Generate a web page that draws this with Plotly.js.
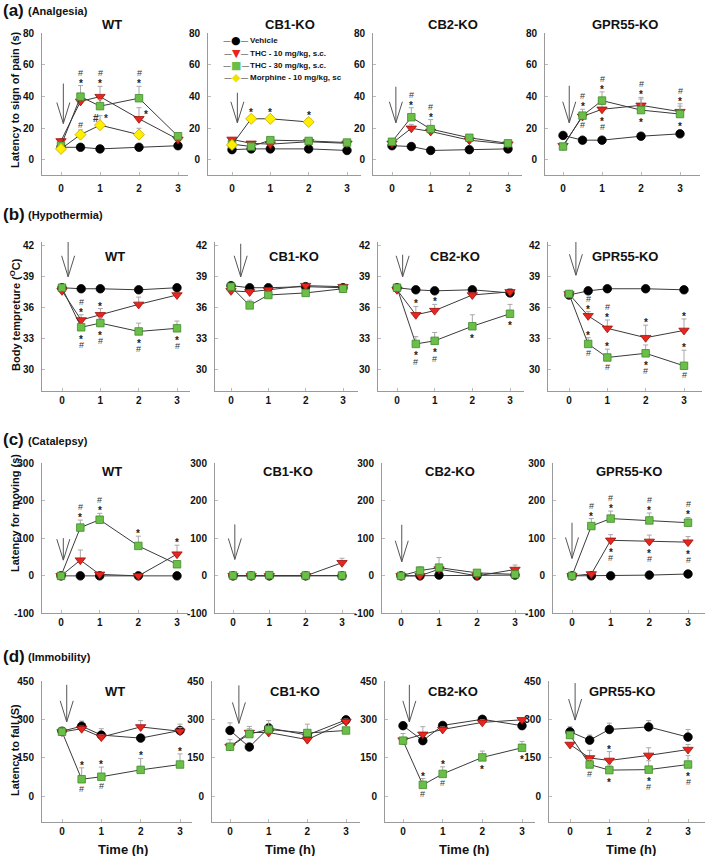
<!DOCTYPE html>
<html><head><meta charset="utf-8">
<script src="https://cdn.plot.ly/plotly-3.0.1.min.js"></script>
<style>html,body{margin:0;padding:0;background:#fff;}#chart{width:709px;height:856px;}</style>
</head><body><div id="chart"></div>
<script>
// ---------------- DATA ----------------
const timeH = [0, 0.5, 1, 2, 3];
const xTicks = [0, 1, 2, 3];
const genotypes = ["WT", "CB1-KO", "CB2-KO", "GPR55-KO"];
const seriesNames = ["Vehicle", "THC - 10 mg/kg, s.c.", "THC - 30 mg/kg, s.c.", "Morphine - 10 mg/kg, sc"];
const panelLetters = ["(a)", "(b)", "(c)", "(d)"];
const testNames = ["(Analgesia)", "(Hypothermia)", "(Catalepsy)", "(Immobility)"];
const yTitles = ["Latency to sign of pain (s)", "Body tempreture (<sup>O</sup>C)", "Latency for moving (s)", "Latency to fall (S)"];
const xTitle = "Time (h)";
const yTicks = [[0, 20, 40, 60, 80], [30, 33, 36, 39, 42], [-100, 0, 100, 200, 300], [0, 150, 300, 450]];

// each array: [WT, CB1-KO, CB2-KO, GPR55-KO], values at timeH; errors are SEM (upper bar only)
// (a) Analgesia
const analgesiaVehicle    = [[8, 8, 7, 8, 9], [6.5, 7, 7, 7, 6], [9, 8.5, 6, 6.5, 7], [15.5, 12.5, 12.5, 15, 16.5]];
const analgesiaVehicleErr = [[1, 1, 1, 1, 1], [1, 1, 1, 1, 1], [1, 1, 1, 1, 1], [1, 1, 1, 1, 1]];
const analgesiaTHC10      = [[12, 37, 40, 26, 13], [13, 10.5, 10, 11.5, 10.5], [10.5, 20, 18, 12.5, 10], [9, 27.5, 32, 34.5, 30.5]];
const analgesiaTHC10Err   = [[1.5, 2, 6.5, 7, 2], [1, 1, 1, 1, 1], [1, 2.5, 2, 1.5, 1], [1, 2, 3, 5, 5]];
const analgesiaTHC30      = [[9, 40, 34, 39, 15], [10, 8.5, 12.5, 12, 11], [11.5, 27, 19.5, 14, 10.5], [8.5, 28, 37.5, 31.5, 29]];
const analgesiaTHC30Err   = [[1.5, 7, 4, 7.5, 2], [1, 1, 1, 1, 1], [1, 6, 6, 1.5, 1], [1, 4, 5.5, 7, 5]];
const analgesiaMorphine    = [[7, 16, 22, 16], [9.5, 26, 26, 24]];
const analgesiaMorphineErr = [[1, 3, 6, 4], [1, 1.5, 1.5, 2]];
// significance marks: [genotype, series, time index, placement, marks top-to-bottom]
const analgesiaSig = [
  [0, 2, 1, "above", "#*"], [0, 1, 2, "above", "#*"], [0, 2, 3, "above", "#*"], [0, 1, 3, "right", "*"],
  [0, 3, 1, "above", "#"], [0, 3, 2, "flank", "#  *"],
  [1, 3, 1, "above", "*"], [1, 3, 2, "above", "*"], [1, 3, 3, "above", "*"],
  [2, 2, 1, "above", "#*"], [2, 2, 2, "above", "#*"],
  [3, 2, 1, "above", "#*"], [3, 2, 1, "below", "#"], [3, 2, 2, "above", "#*"], [3, 1, 2, "below", "*#"],
  [3, 1, 3, "above", "#*"], [3, 2, 3, "below", "*"], [3, 1, 4, "above", "#*"], [3, 2, 4, "below", "*"]
];

// (b) Hypothermia
const hypothermiaVehicle    = [[37.9, 37.8, 37.8, 37.7, 37.9], [38.1, 37.9, 37.9, 38.0, 37.9], [37.9, 37.7, 37.6, 37.7, 37.4], [37.2, 37.6, 37.8, 37.8, 37.7]];
const hypothermiaVehicleErr = [[0.1, 0.1, 0.1, 0.1, 0.1], [0.1, 0.1, 0.1, 0.1, 0.1], [0.1, 0.1, 0.1, 0.1, 0.1], [0.1, 0.1, 0.1, 0.1, 0.1]];
const hypothermiaTHC10      = [[37.6, 34.8, 35.3, 36.3, 37.2], [37.6, 37.5, 37.7, 38.1, 38.0], [37.7, 35.3, 35.7, 37.2, 37.5], [37.3, 35.2, 34.0, 33.1, 33.8]];
const hypothermiaTHC10Err   = [[0.1, 0.5, 0.6, 0.7, 0.2], [0.1, 0.2, 0.1, 0.1, 0.1], [0.1, 0.8, 0.6, 0.2, 0.3], [0.1, 0.4, 0.8, 1.2, 1.1]];
const hypothermiaTHC30      = [[37.9, 34.1, 34.5, 33.7, 34.0], [38.0, 36.2, 37.2, 37.4, 37.8], [37.9, 32.5, 32.8, 34.2, 35.4], [37.3, 32.5, 31.2, 31.6, 30.4]];
const hypothermiaTHC30Err   = [[0.1, 0.3, 0.5, 0.8, 0.7], [0.1, 0.5, 0.2, 0.2, 0.1], [0.1, 0.7, 0.8, 1.1, 0.9], [0.1, 0.6, 0.8, 0.8, 1.5]];
const hypothermiaSig = [
  [0, 1, 1, "above", "#*"], [0, 2, 1, "below", "*#"], [0, 1, 2, "above", "*"], [0, 2, 2, "below", "*#"],
  [0, 2, 3, "below", "*#"], [0, 2, 4, "below", "*#"],
  [2, 1, 1, "above", "*"], [2, 2, 1, "below", "*#"], [2, 1, 2, "above", "*"], [2, 2, 2, "below", "*#"],
  [2, 2, 3, "below", "*"], [2, 2, 4, "below", "*"],
  [3, 1, 1, "above", "#*"], [3, 2, 1, "above", "*"], [3, 2, 1, "below", "#"], [3, 1, 2, "above", "#*"],
  [3, 2, 2, "above", "*"], [3, 2, 2, "below", "#"], [3, 1, 3, "above", "*"], [3, 2, 3, "below", "*#"],
  [3, 1, 4, "above", "*"], [3, 2, 4, "above", "*"], [3, 2, 4, "below", "#"]
];

// (c) Catalepsy
const catalepsyVehicle    = [[0, 0, 0, 0, 0], [0, 0, 0, 0, 0], [0, 0, 2, 0, 2], [0, 0, 0, 2, 5]];
const catalepsyVehicleErr = [[0, 0, 0, 0, 0], [0, 0, 0, 0, 0], [0, 0, 0, 0, 0], [0, 0, 0, 0, 0]];
const catalepsyTHC10      = [[0, 42, 4, 0, 58], [0, 0, 0, 0, 35], [0, 0, 18, 0, 17], [0, 5, 95, 92, 90]];
const catalepsyTHC10Err   = [[0, 27, 3, 0, 24], [0, 0, 0, 0, 12], [0, 0, 5, 0, 12], [0, 2, 15, 17, 15]];
const catalepsyTHC30      = [[0, 129, 150, 80, 31], [1, 1, 2, 1, 1], [0, 14, 22, 8, 4], [0, 133, 153, 148, 142]];
const catalepsyTHC30Err   = [[0, 20, 17, 26, 5], [0, 0, 0, 0, 0], [0, 10, 27, 5, 3], [0, 20, 20, 20, 14]];
const catalepsySig = [
  [0, 2, 1, "above", "#*"], [0, 2, 2, "above", "#*"], [0, 2, 3, "above", "*"], [0, 1, 4, "above", "*"],
  [3, 2, 1, "above", "#*"], [3, 2, 2, "above", "#*"], [3, 1, 2, "below", "*#"], [3, 2, 3, "above", "#*"],
  [3, 1, 3, "below", "*#"], [3, 2, 4, "above", "#*"], [3, 1, 4, "below", "*#"]
];

// (d) Immobility
const immobilityVehicle    = [[255, 275, 240, 228, 258], [258, 193, 268, 240, 300], [277, 218, 278, 302, 277], [253, 220, 262, 272, 232]];
const immobilityVehicleErr = [[15, 20, 25, 10, 25], [30, 10, 15, 15, 5], [10, 10, 10, 5, 10], [20, 20, 25, 25, 30]];
const immobilityTHC10      = [[252, 265, 232, 272, 255], [195, 250, 250, 222, 293], [220, 243, 262, 290, 300], [203, 150, 140, 160, 183]];
const immobilityTHC10Err   = [[10, 10, 10, 25, 15], [10, 15, 15, 10, 10], [10, 30, 10, 10, 5], [5, 30, 35, 30, 20]];
const immobilityTHC30      = [[253, 66, 76, 103, 124], [194, 244, 262, 248, 258], [218, 44, 87, 152, 190], [240, 124, 102, 104, 124]];
const immobilityTHC30Err   = [[15, 45, 38, 45, 42], [28, 30, 35, 35, 10], [28, 25, 28, 25, 25], [10, 20, 20, 35, 35]];
const immobilitySig = [
  [0, 2, 1, "above", "*"], [0, 2, 1, "below", "#"], [0, 2, 2, "above", "*"], [0, 2, 2, "below", "#"],
  [0, 2, 3, "above", "*"], [0, 2, 4, "above", "*"],
  [2, 2, 1, "above", "*"], [2, 2, 1, "below", "#"], [2, 2, 2, "above", "*"], [2, 2, 2, "below", "#"],
  [2, 2, 3, "below", "*"], [2, 2, 4, "below", "*"],
  [3, 2, 1, "below", "#"], [3, 1, 2, "above", "*"], [3, 2, 2, "below", "*"], [3, 2, 3, "below", "*#"],
  [3, 2, 4, "below", "*#"]
];

// ---------------- LAYOUT / STYLE (pixels) ----------------
const W = 709, H = 856;
const FONT = "Liberation Sans, Arial, sans-serif";
const seriesStyle = [
  {symbol: "circle", size: 8.5, color: "#000000", line: "#000000", glyph: "\u25CF"},
  {symbol: "triangle-down", size: 9, color: "#e8261c", line: "#9c1010", glyph: "\u25BC"},
  {symbol: "square", size: 7.5, color: "#6bbf48", line: "#3f8a2c", glyph: "\u25A0"},
  {symbol: "diamond", size: 8.5, color: "#fff000", line: "#c9a400", glyph: "\u25C6"}
];
// cols: [axis-left px, px of t=0, px of t=3, axis-right px]; arrows: [x, tip value, length px]
const rowLayout = [
  {top: 32.5, bottom: 175, yrange: [-9.5, 80.5],
   cols: [[42, 61, 178, 188], [208, 232, 347, 361], [373, 392, 508, 522], [545, 563, 680, 700]],
   titleY: 25, titleX: [1.31, 1.51, 1.58, 1.59], labelY: 10, yTitleY: 100,
   arrows: [[0.06, 23, 40], [0.14, 23.5, 30], [0.1, 23.5, 36], [0.16, 23.5, 37]]},
  {top: 241.9, bottom: 390.8, yrange: [28, 42.3],
   cols: [[42, 62, 177, 190], [215, 231, 343, 358], [378, 397, 510, 524], [548, 569, 684, 702]],
   titleY: 256, titleX: [1.38, 1.7, 1.54, 1.46], labelY: 214, yTitleY: 315,
   arrows: [[0.16, 38.95, 37], [0.26, 38.95, 33], [0.15, 38.95, 22], [0.18, 39.1, 35]]},
  {top: 462.8, bottom: 613.3, yrange: [-100, 302],
   cols: [[42, 61, 177, 188], [215, 233, 342, 356], [382, 401, 515, 528], [553, 572, 688, 705]],
   titleY: 471, titleX: [1.32, 1.5, 1.3, 1.48], labelY: 440, yTitleY: 513,
   arrows: [[0.06, 42, 22], [0.05, 44, 35], [0.02, 37.7, 37], [0, 46.6, 35.6]]},
  {top: 681.2, bottom: 821.7, yrange: [-101, 452],
   cols: [[42, 62, 180, 192], [212, 230, 346, 360], [385, 403, 522, 535], [549, 570, 688, 705]],
   titleY: 691, titleX: [1.35, 1.68, 1.26, 1.32], labelY: 656, yTitleY: 750,
   arrows: [[0.12, 292, 37], [0.23, 286, 38], [0.16, 292, 37], [0.13, 299, 37]]}
];

const rowSeries = [
  [[analgesiaVehicle, analgesiaVehicleErr], [analgesiaTHC10, analgesiaTHC10Err], [analgesiaTHC30, analgesiaTHC30Err], [analgesiaMorphine, analgesiaMorphineErr]],
  [[hypothermiaVehicle, hypothermiaVehicleErr], [hypothermiaTHC10, hypothermiaTHC10Err], [hypothermiaTHC30, hypothermiaTHC30Err]],
  [[catalepsyVehicle, catalepsyVehicleErr], [catalepsyTHC10, catalepsyTHC10Err], [catalepsyTHC30, catalepsyTHC30Err]],
  [[immobilityVehicle, immobilityVehicleErr], [immobilityTHC10, immobilityTHC10Err], [immobilityTHC30, immobilityTHC30Err]]
];
const rowSig = [analgesiaSig, hypothermiaSig, catalepsySig, immobilitySig];

const px = v => v / W;
const py = v => 1 - v / H;

const traces = [];
const annotations = [];
const shapes = [];
const layout = {
  width: W, height: H, margin: {l: 0, r: 0, t: 0, b: 0},
  paper_bgcolor: "#ffffff", plot_bgcolor: "rgba(0,0,0,0)",
  font: {family: FONT, color: "#111"}, showlegend: false
};

const axisCommon = {
  showline: true, linecolor: "#9a9a9a", linewidth: 1, showgrid: false, zeroline: false,
  ticks: "inside", ticklen: 3, tickcolor: "#bbbbbb", tickwidth: 1,
  tickfont: {family: FONT, size: 10, weight: "bold", color: "#111"}, fixedrange: true,
  ticklabeloverflow: "allow"
};

// annotation helper: always centred on its point
const ann = o => Object.assign({showarrow: false, borderpad: 0, xanchor: "center", yanchor: "middle"}, o);

for (let r = 0; r < 4; r++) {
  const RL = rowLayout[r];
  const ppu = (RL.bottom - RL.top) / (RL.yrange[1] - RL.yrange[0]);
  for (let c = 0; c < 4; c++) {
    const k = r * 4 + c + 1;
    const xs = k === 1 ? "x" : "x" + k, ys = k === 1 ? "y" : "y" + k;
    const [aL, x0, x3, aR] = RL.cols[c];
    const sc = (x3 - x0) / 3;
    layout[k === 1 ? "xaxis" : "xaxis" + k] = Object.assign({}, axisCommon, {
      domain: [px(aL), px(aR)], range: [(aL - x0) / sc, (aR - x0) / sc],
      tickvals: xTicks, ticktext: xTicks.map(String), anchor: ys, ticklabelstandoff: r === 0 ? 4 : 0
    });
    layout[k === 1 ? "yaxis" : "yaxis" + k] = Object.assign({}, axisCommon, {
      domain: [py(RL.bottom), py(RL.top)], range: RL.yrange,
      tickvals: yTicks[r], ticktext: yTicks[r].map(String), anchor: xs, ticklabelstandoff: 5
    });

    // data traces
    rowSeries[r].forEach((pair, s) => {
      const vals = pair[0][c];
      if (!vals) return;
      const errs = pair[1][c];
      const st = seriesStyle[s];
      traces.push({
        type: "scatter", mode: "lines+markers", name: seriesNames[s] + " (" + genotypes[c] + ")",
        x: timeH.slice(0, vals.length), y: vals, xaxis: xs, yaxis: ys,
        line: {color: "#3a3a3a", width: 1},
        marker: {symbol: st.symbol, size: st.size, color: st.color, line: {color: st.line, width: 0.8}},
        error_y: {type: "data", symmetric: false, array: errs, arrayminus: errs.map(() => 0),
                  color: "#a8a8a8", thickness: 1, width: 2.5},
        cliponaxis: false, hoverinfo: "skip"
      });
    });

    // panel title
    annotations.push(ann({xref: xs, yref: "paper", x: RL.titleX[c], y: py(RL.titleY), text: genotypes[c],
      font: {family: FONT, size: 13, weight: "bold", color: "#111"}}));

    // injection arrow
    const [axx, tip, len] = RL.arrows[c];
    const hh = Math.min(21, len), hw = 6.5;
    shapes.push({type: "path", xref: xs, yref: ys, xsizemode: "pixel", ysizemode: "pixel",
      xanchor: axx, yanchor: tip,
      path: `M0,${len} L0,0 M${-hw},${hh} L0,0 L${hw},${hh}`,
      line: {color: "#555", width: 1}});

    if (r === 3) {
      annotations.push(ann({xref: xs, yref: "paper", x: 1.55, y: py(849), text: xTitle,
        font: {family: FONT, size: 13, weight: "bold", color: "#111"}}));
    }
  }

  // significance marks
  rowSig[r].forEach(([c, s, p, pos, txt]) => {
    const k = r * 4 + c + 1;
    const xs = k === 1 ? "x" : "x" + k, ys = k === 1 ? "y" : "y" + k;
    const v = rowSeries[r][s][0][c][p];
    const e = rowSeries[r][s][1][c][p];
    const ePx = e * ppu;
    const mk = (ch, yshift, xshift) => {
      const star = ch.indexOf("*") >= 0 && ch.indexOf("#") < 0;
      annotations.push(ann({xref: xs, yref: ys, x: timeH[p], y: v, text: ch,
        xshift: xshift || 0, yshift: yshift + (star ? -2.5 : 0),
        font: star ? {family: FONT, size: 10, weight: "bold", color: "#222"} : {family: FONT, size: 9, color: "#333"}}));
    };
    const chars = txt.split("");
    if (pos === "above") {
      const base = Math.max(ePx + 5, 8.5);
      chars.forEach((ch, i) => mk(ch, base + (chars.length - 1 - i) * 8));
    } else if (pos === "below") {
      chars.forEach((ch, i) => mk(ch, -(9.5 + i * 8.3)));
    } else if (pos === "right") {
      mk(txt, 7, 7);
    } else if (pos === "flank") {
      annotations.push(ann({xref: xs, yref: ys, x: timeH[p], y: v, text: txt,
        yshift: ePx - 3, font: {family: FONT, size: 10, weight: "bold", color: "#333"}}));
    }
  });

  // row label and y title
  annotations.push(ann({xref: "paper", yref: "paper", x: px(2), y: py(RL.labelY), xanchor: "left", text: panelLetters[r],
    font: {family: FONT, size: 17, weight: "bold", color: "#111"}}));
  annotations.push(ann({xref: "paper", yref: "paper", x: px(27), y: py(RL.labelY + 1), xanchor: "left", text: testNames[r],
    font: {family: FONT, size: 11, weight: "bold", color: "#111"}}));
  annotations.push(ann({xref: "paper", yref: "paper", x: px(15), y: py(RL.yTitleY),
    text: yTitles[r], textangle: -90, font: {family: FONT, size: 11, weight: "bold", color: "#111"}}));
}

// legend (inside CB1-KO analgesia panel)
const legendRows = [41, 53.3, 65.6, 77.9];
seriesNames.forEach((nm, s) => {
  const st = seriesStyle[s];
  annotations.push(ann({xref: "paper", yref: "paper", x: px(236), y: py(legendRows[s]),
    text: `<span style="color:#555;font-size:8px">\u2014</span><span style="color:${st.color === '#fff000' ? '#f2e000' : st.color}">${st.glyph}</span><span style="color:#555;font-size:8px">\u2014</span>`,
    font: {family: "DejaVu Sans", size: 11, color: "#555"}}));
  annotations.push(ann({xref: "paper", yref: "paper", x: px(249), y: py(legendRows[s]), xanchor: "left",
    text: nm, font: {family: FONT, size: 8, weight: "bold", color: "#111"}}));
});

layout.annotations = annotations;
layout.shapes = shapes;
Plotly.newPlot("chart", traces, layout, {staticPlot: true, displayModeBar: false});
</script>
</body></html>
